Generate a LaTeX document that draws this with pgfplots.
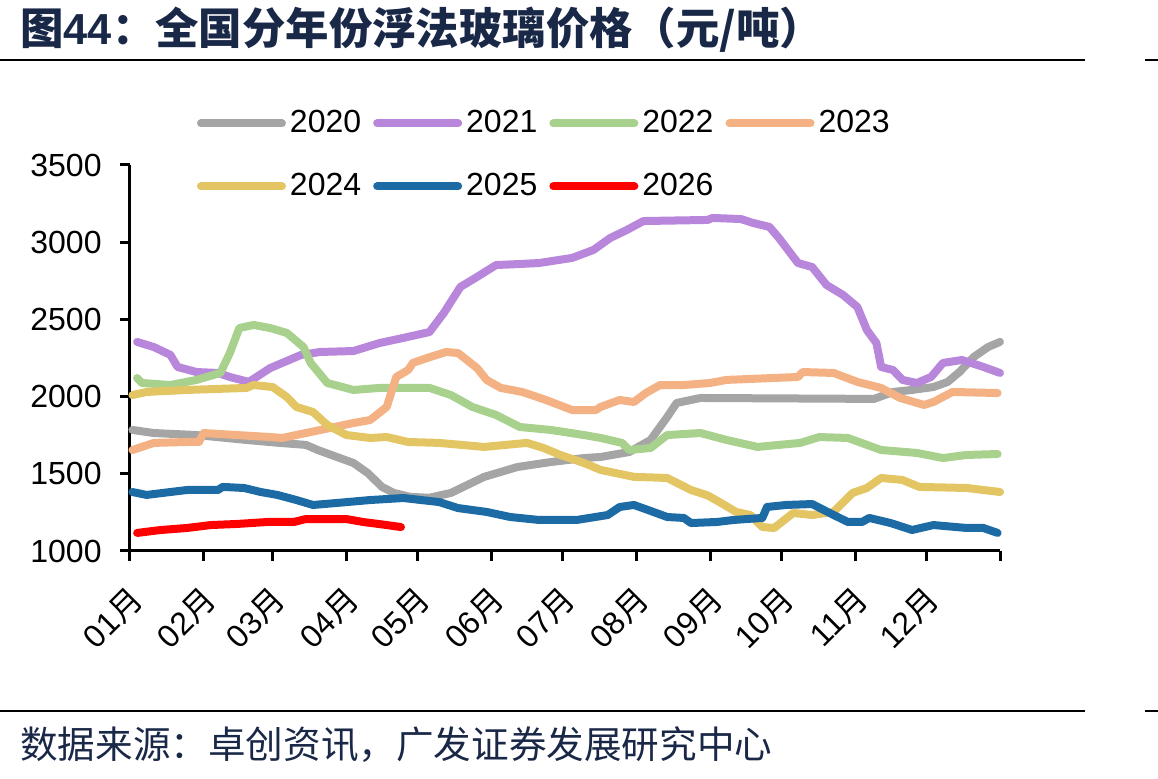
\documentclass[border=0pt]{standalone}
\usepackage{pgfplots}
\pgfplotsset{compat=1.18}
\usepackage{fontspec}
\setmainfont{Liberation Sans}
\newfontfamily\cjk{Noto Sans CJK SC}
\definecolor{c20}{HTML}{A5A5A5}
\definecolor{c21}{HTML}{B886DA}
\definecolor{c22}{HTML}{A9D18E}
\definecolor{c23}{HTML}{F4B183}
\definecolor{c24}{HTML}{E3C564}
\definecolor{c25}{HTML}{1C6BA5}
\definecolor{c26}{HTML}{FF0000}
\definecolor{navy}{HTML}{1A2847}
\begin{document}
\begin{tikzpicture}[x=1pt,y=1pt]
\useasboundingbox (0,0) rectangle (579,389.5);
\node[anchor=base west, inner sep=0pt, text=navy, font=\fontsize{21.7}{21.7}\selectfont\cjk\bfseries] at (10,367) {图{\fontspec{Liberation Sans}\bfseries 44}：全国分年份浮法玻璃价格（元/吨）};
\draw[line width=1.2pt] (0,359.5) -- (542.5,359.5);
\draw[line width=1.2pt] (572.5,359.5) -- (579,359.5);
\draw[line width=1.2pt] (0,34) -- (542.5,34);
\draw[line width=1.2pt] (572.5,34) -- (579,34);
\node[anchor=base west, inner sep=0pt, text=navy, font=\fontsize{18.8}{18.8}\selectfont\cjk] at (10,10) {数据来源：卓创资讯，广发证券发展研究中心};
\begin{axis}[
  at={(65pt,114pt)}, anchor=south west, scale only axis,
  width=435pt, height=193pt,
  xmin=0, xmax=366, ymin=1000, ymax=3500,
  clip=false,
  axis lines=left,
  axis line style={-, line width=1.5pt, black},
  every tick/.style={line width=1.5pt, black},
  major tick length=5pt,
  tick align=outside,
  ytick={1000,1500,2000,2500,3000,3500},
  xtick={0,31,60,91,121,152,182,213,244,274,305,335,366},
  xticklabels={{01\cjk 月},{02\cjk 月},{03\cjk 月},{04\cjk 月},{05\cjk 月},{06\cjk 月},{07\cjk 月},{08\cjk 月},{09\cjk 月},{10\cjk 月},{11\cjk 月},{12\cjk 月},{}},
  ticklabel style={font=\fontsize{16}{16}\selectfont, inner sep=0pt},
  yticklabel style={anchor=east, xshift=-9pt, /pgf/number format/1000 sep={}, /pgf/number format/assume math mode=true},
  xticklabel style={xshift=3.5pt, yshift=-16.5pt, rotate=45, anchor=east},
  legend columns=4,
  legend cell align=left,
  legend image code/.code={\draw[#1, line cap=round] (2pt,0pt) -- (42.5pt,0pt);},
  legend style={at={(0.077,1.1466)}, anchor=north west, draw=none, fill=none,
    inner sep=0pt, outer sep=0pt, font=\fontsize{16}{16}\selectfont,
    column sep=2pt, row sep=16.5pt,
    nodes={inner sep=0pt, text height=12pt, text depth=3pt},
    /tikz/every even column/.append style={column sep=6pt}},
  every axis plot/.append style={line width=4pt, line join=round, line cap=round, no marks},
]
\addplot[c20] coordinates {(1,1784)(10,1764)(28,1751)(49,1719)(63,1700)(74,1687)(79,1654)(87,1609)(94,1570)(100,1505)(106,1415)(111,1376)(118,1350)(126,1345)(135,1376)(149,1480)(163,1544)(177,1576)(191,1602)(198,1609)(210,1641)(219,1719)(226,1868)(230,1959)(240,1991)(313,1985)(321,2030)(329,2043)(338,2062)(344,2095)(349,2160)(355,2257)(361,2321)(366,2354)};
\addlegendentry{2020}
\addplot[c21] coordinates {(3,2354)(10,2321)(17,2270)(20,2192)(28,2159)(37,2153)(42,2127)(50,2095)(59,2185)(72,2270)(80,2289)(94,2295)(105,2347)(115,2380)(126,2418)(132,2541)(139,2710)(146,2775)(154,2852)(163,2858)(172,2865)(186,2898)(195,2950)(202,3027)(209,3079)(216,3137)(243,3144)(245,3157)(257,3150)(262,3125)(269,3099)(273,3027)(281,2865)(287,2839)(293,2723)(300,2658)(306,2580)(310,2431)(314,2347)(316,2192)(321,2172)(325,2108)(331,2088)(337,2127)(342,2218)(350,2237)(359,2192)(366,2153)};
\addlegendentry{2021}
\addplot[c22] coordinates {(3,2120)(5,2088)(17,2075)(28,2108)(38,2153)(42,2282)(46,2444)(52,2464)(59,2444)(66,2412)(73,2321)(76,2218)(83,2088)(94,2043)(105,2056)(126,2056)(135,2010)(144,1933)(154,1881)(164,1803)(177,1784)(191,1751)(198,1732)(207,1700)(210,1654)(219,1667)(226,1751)(240,1764)(251,1719)(264,1674)(282,1700)(290,1738)(302,1732)(316,1654)(331,1635)(342,1602)(352,1622)(365,1628)};
\addlegendentry{2022}
\addplot[c23] coordinates {(1,1654)(10,1700)(24,1706)(29,1706)(31,1764)(45,1751)(59,1738)(64,1732)(74,1764)(94,1829)(101,1848)(108,1933)(112,2127)(117,2172)(119,2218)(125,2250)(133,2289)(138,2282)(146,2185)(150,2108)(156,2056)(165,2030)(175,1978)(186,1913)(196,1913)(198,1933)(206,1978)(212,1965)(217,2023)(223,2075)(233,2075)(244,2088)(251,2108)(281,2127)(283,2159)(296,2153)(306,2095)(316,2056)(324,1991)(334,1946)(338,1965)(346,2030)(365,2023)};
\addlegendentry{2023}
\addplot[c24] coordinates {(1,2010)(7,2030)(24,2043)(49,2056)(52,2075)(60,2062)(66,1997)(70,1933)(77,1900)(83,1816)(91,1751)(101,1732)(108,1738)(117,1706)(130,1700)(149,1674)(167,1700)(174,1667)(181,1622)(191,1570)(198,1525)(212,1480)(226,1473)(236,1395)(243,1360)(248,1317)(255,1253)(261,1233)(266,1155)(271,1149)(279,1246)(287,1233)(296,1253)(304,1376)(310,1408)(316,1473)(325,1460)(332,1415)(352,1408)(366,1382)};
\addlegendentry{2024}
\addplot[c25] coordinates {(1,1382)(7,1363)(17,1382)(24,1395)(37,1395)(39,1415)(48,1408)(55,1382)(62,1363)(70,1330)(77,1298)(87,1311)(101,1330)(115,1343)(130,1317)(138,1278)(150,1253)(160,1220)(172,1201)(188,1201)(201,1233)(206,1285)(212,1298)(218,1265)(226,1220)(233,1214)(236,1181)(247,1188)(254,1201)(266,1214)(268,1285)(276,1298)(287,1304)(296,1233)(302,1188)(308,1188)(311,1214)(320,1181)(329,1136)(338,1168)(352,1149)(359,1149)(365,1117)};
\addlegendentry{2025}
\addplot[c26] coordinates {(3,1117)(13,1136)(24,1149)(34,1168)(45,1175)(58,1188)(69,1188)(74,1207)(91,1207)(98,1188)(108,1168)(114,1155)};
\addlegendentry{2026}
\end{axis}
\end{tikzpicture}
\end{document}
